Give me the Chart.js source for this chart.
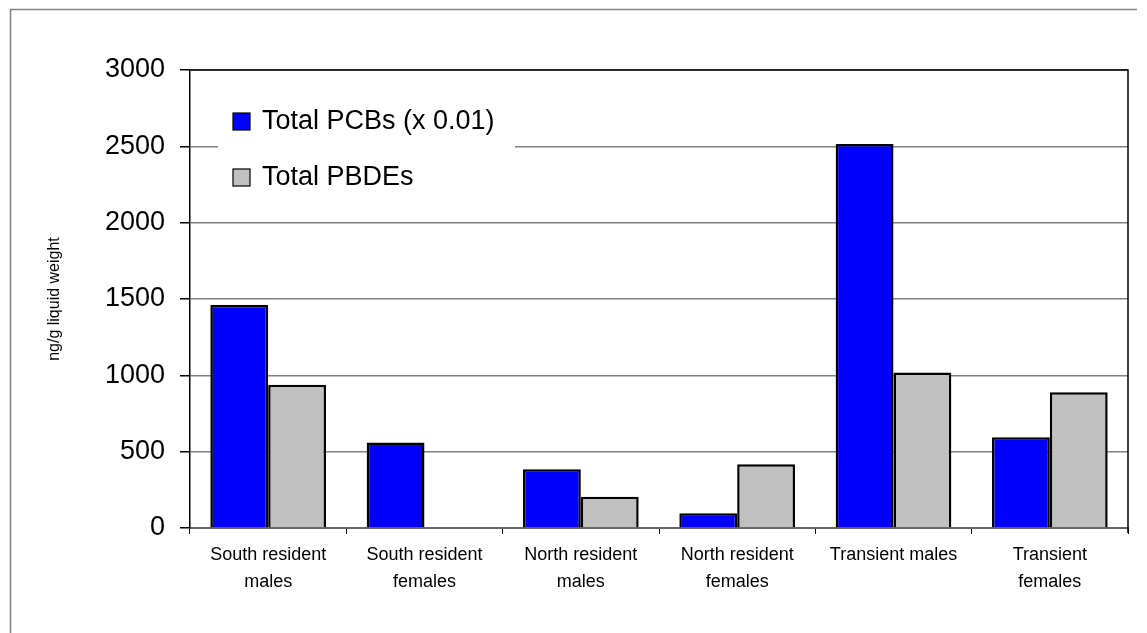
<!DOCTYPE html>
<html>
<head>
<meta charset="utf-8">
<script src="https://cdn.jsdelivr.net/npm/chart.js@4.4.0/dist/chart.umd.min.js"></script>
<style>
  body { margin: 0; background: #fff; }
</style>
</head>
<body>
<canvas id="myChart" width="1147" height="633"></canvas>
<script>
  // categories (x-axis), split into label lines
  const categories = [
    ['South resident', 'males'],
    ['South resident', 'females'],
    ['North resident', 'males'],
    ['North resident', 'females'],
    ['Transient males'],
    ['Transient', 'females']
  ];

  // values (ng/g liquid weight)
  const pcbValues = [1460, 560, 385, 96, 2515, 594];     // Total PCBs (x 0.01)
  const pbdeValues = [938, null, 205, 417, 1018, 889];   // Total PBDEs

  const yTicks = [0, 500, 1000, 1500, 2000, 2500, 3000];

  const fontName = '"Liberation Sans", Arial, sans-serif';

  // outer frame + plot border top/right
  const framePlugin = {
    id: 'frame',
    beforeDraw(chart) {
      const c = chart.ctx;
      c.save();
      c.strokeStyle = '#808080';
      c.lineWidth = 1.5;
      c.beginPath();
      c.moveTo(10.5, 633);
      c.lineTo(10.5, 9.5);
      c.lineTo(1137, 9.5);
      c.stroke();
      c.restore();
    },
    afterDraw(chart) {
      const a = chart.chartArea;
      const c = chart.ctx;
      c.save();
      c.strokeStyle = '#000';
      c.lineWidth = 1.5;
      c.beginPath();
      c.moveTo(a.left, a.top);
      c.lineTo(a.right, a.top);
      c.lineTo(a.right, a.bottom + 5);
      c.stroke();
      c.restore();
    }
  };

  // legend box inside the plot
  const boxLegend = {
    id: 'boxLegend',
    afterDatasetsDraw(chart) {
      const c = chart.ctx;
      c.save();
      c.fillStyle = '#fff';
      c.fillRect(218, 96, 297, 108);
      c.font = '27px ' + fontName;
      c.textBaseline = 'middle';
      chart.data.datasets.forEach((ds, i) => {
        const y = 121 + i * 56;
        c.fillStyle = ds.backgroundColor;
        c.fillRect(233, y - 8, 17, 17);
        c.strokeStyle = '#000';
        c.lineWidth = 1.2;
        c.strokeRect(233, y - 8, 17, 17);
        c.fillStyle = '#000';
        c.fillText(ds.label, 262, y + 1);
      });
      c.restore();
    }
  };

  const ctx = document.getElementById('myChart').getContext('2d');

  const myChart = new Chart(ctx, {
    type: 'bar',
    data: {
      labels: categories,
      datasets: [{
        label: 'Total PCBs (x 0.01)',
        data: pcbValues,
        backgroundColor: '#0000FF',
        borderColor: '#000',
        borderWidth: 2.5,
        borderSkipped: 'bottom'
      }, {
        label: 'Total PBDEs',
        data: pbdeValues,
        backgroundColor: '#C0C0C0',
        borderColor: '#000',
        borderWidth: 2.5,
        borderSkipped: 'bottom'
      }]
    },
    options: {
      responsive: false,
      animation: false,
      layout: {
        padding: { top: 70, right: 19, left: 0, bottom: 0 }
      },
      datasets: {
        bar: {
          categoryPercentage: 0.74,
          barPercentage: 1
        }
      },
      plugins: {
        legend: { display: false },
        tooltip: { enabled: false }
      },
      scales: {
        x: {
          afterFit(scale) { scale.height = 105; },
          grid: {
            offset: true,
            drawOnChartArea: false,
            drawTicks: true,
            tickLength: 6,
            tickColor: '#000'
          },
          border: { color: '#666', width: 2 },
          ticks: {
            color: '#000',
            font: { family: fontName, size: 18, lineHeight: 1.5 },
            padding: 8,
            maxRotation: 0,
            autoSkip: false
          }
        },
        y: {
          min: 0,
          max: 3000,
          afterFit(scale) { scale.width = 190; },
          afterBuildTicks(scale) {
            scale.ticks = yTicks.map(v => ({ value: v }));
          },
          grid: {
            color: '#808080',
            lineWidth: 1.5,
            tickLength: 10,
            tickColor: '#000'
          },
          border: { color: '#000', width: 1.5 },
          ticks: {
            color: '#000',
            font: { family: fontName, size: 27 },
            padding: 15,
            callback: v => String(v)
          },
          title: {
            display: true,
            text: 'ng/g liquid weight',
            color: '#000',
            font: { family: fontName, size: 16 },
            padding: { top: 45 }
          }
        }
      }
    },
    plugins: [framePlugin, boxLegend]
  });
</script>
</body>
</html>
